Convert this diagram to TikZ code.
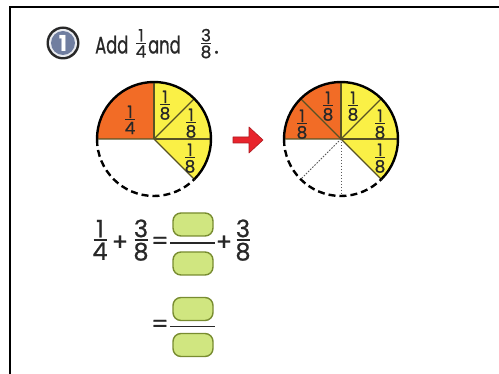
\documentclass[tikz,border=0pt]{standalone}
\usepackage{fontspec}
\setmainfont{Poppins}
\newfontfamily\hd[FakeStretch=0.68,FakeBold=0.6]{Poppins}
\newfontfamily\md[FakeBold=0.7]{Poppins}
\definecolor{pieor}{RGB}{242,108,38}
\definecolor{pieye}{RGB}{250,240,70}
\definecolor{divl}{RGB}{88,82,36}
\definecolor{boxf}{RGB}{208,230,128}
\definecolor{boxd}{RGB}{120,140,48}
\definecolor{arr}{RGB}{232,36,44}
\definecolor{badgec}{RGB}{112,126,160}
\definecolor{ink}{RGB}{40,40,40}
\tikzset{
  fs/.style={inner sep=0pt,font=\md\fontsize{17}{17}\selectfont,text=ink},
  fb/.style={inner sep=0pt,font=\md\fontsize{24}{24}\selectfont,text=ink},
  barline/.style={draw=ink,line width=1.2pt},
  divline/.style={draw=divl,line width=1.3pt},
  rim/.style={draw=black,line width=2.4pt},
  rimd/.style={draw=black,line width=2.4pt,dash pattern=on 7pt off 4pt},
  dotl/.style={draw=black!65,line width=1pt,dash pattern=on 1.5pt off 1.5pt},
  ansbox/.style={draw=boxd,fill=boxf,line width=1.4pt,rounded corners=8pt,minimum width=40pt,minimum height=23pt,inner sep=0pt},
}
% small fraction: name, x, bar y, num, den
\newcommand\frs[5]{%
  \node[fs,anchor=south] (#1n) at (#2,#3-1.8) {#4};
  \node[fs,anchor=north] (#1d) at (#2,#3+1.8) {#5};
  \draw[barline,line width=1pt] (#2-5,#3) -- (#2+5,#3);}
% big fraction
\newcommand\frb[5]{%
  \node[fb,anchor=south] (#1n) at (#2,#3-2.5) {#4};
  \node[fb,anchor=north] (#1d) at (#2,#3+2.5) {#5};
  \draw[barline] (#2-6.5,#3) -- (#2+6.5,#3);}
\begin{document}
\begin{tikzpicture}[x=1pt,y=-1pt]
\useasboundingbox (0,0) rectangle (499,374);
\fill[white] (0,0) rectangle (499,374);
% frame
\draw[line width=1.5pt] (10,374) -- (10,7) -- (499,7);
% badge
\fill[ink] (63,43) circle[radius=16.5];
\fill[white!85!badgec] (63,43) circle[radius=14];
\fill[badgec] (63,43) circle[radius=12];
\node[inner sep=0pt,text=white,font=\fontsize{22}{22}\bfseries\selectfont] (badge) at (63,43.5) {1};
% title
\node[anchor=base west,inner sep=0pt,text=ink,font=\hd\fontsize{24}{24}\selectfont] (add) at (95,53.5) {Add};
\frs{ta}{141}{43.5}{1}{4}
\node[anchor=base west,inner sep=0pt,text=ink,font=\hd\fontsize{24}{24}\selectfont] (and) at (148,53.5) {and};
\frs{tb}{206}{43.5}{3}{8}
\node[anchor=base west,inner sep=0pt,text=ink,font=\md\fontsize{22}{22}\selectfont] (dot) at (214,53.5) {.};
% left pie
\begin{scope}[shift={(154,139)},yscale=-1]
  \fill[pieor] (0,0) -- (90:57) arc[start angle=90,end angle=180,radius=57] -- cycle;
  \fill[pieye] (0,0) -- (-45:57) arc[start angle=-45,end angle=90,radius=57] -- cycle;
  \draw[divline] (180:57) -- (0,0) -- (-45:57);
  \draw[divline] (0,0) -- (90:57);
  \draw[divline] (0,0) -- (45:57);
  \draw[divline] (0,0) -- (0:57);
  \draw[rim] (-45:57) arc[start angle=-45,end angle=180,radius=57];
  \draw[rimd] (180:57) arc[start angle=180,end angle=315,radius=57];
\end{scope}
\frs{la}{130}{120}{1}{4}
\frs{lb}{165}{105}{1}{8}
\frs{lc}{191}{123}{1}{8}
\frs{ld}{190}{158}{1}{8}
% arrow
\fill[arr,draw=arr!75!black,line width=0.6pt,line join=round] (233,137) -- (249,137) -- (249,127) -- (263,140) -- (249,153) -- (249,143) -- (233,143) -- cycle;
% right pie
\begin{scope}[shift={(341,139)},yscale=-1]
  \fill[pieor] (0,0) -- (90:57) arc[start angle=90,end angle=180,radius=57] -- cycle;
  \fill[pieye] (0,0) -- (-45:57) arc[start angle=-45,end angle=90,radius=57] -- cycle;
  \draw[dotl] (0,0) -- (270:57);
  \draw[dotl] (0,0) -- (225:57);
  \draw[divline] (180:57) -- (0,0) -- (-45:57);
  \draw[divline] (0,0) -- (135:57);
  \draw[divline] (0,0) -- (90:57);
  \draw[divline] (0,0) -- (45:57);
  \draw[divline] (0,0) -- (0:57);
  \draw[rim] (-45:57) arc[start angle=-45,end angle=180,radius=57];
  \draw[rimd] (180:57) arc[start angle=180,end angle=315,radius=57];
\end{scope}
\frs{ra}{302}{124}{1}{8}
\frs{rb}{328}{106}{1}{8}
\frs{rc}{353}{106}{1}{8}
\frs{rd}{380}{124}{1}{8}
\frs{re}{380}{158}{1}{8}
% equation row 1
\frb{ea}{100}{240}{1}{4}
\node[fb] (p1) at (120,243) {+};
\frb{eb}{141}{240}{3}{8}
\node[fb] (e1) at (160,243) {=};
\node[ansbox] (b1) at (193,224.5) {};
\node[ansbox] (b2) at (193,263.5) {};
\draw[barline] (170,243) -- (215,243);
\node[fb] (p2) at (224,243) {+};
\frb{ec}{243}{240}{3}{8}
% equation row 2
\node[fb] (e2) at (160,326) {=};
\node[ansbox] (b3) at (193,309) {};
\node[ansbox] (b4) at (193,345) {};
\draw[barline] (170,326.5) -- (215,326.5);
\end{tikzpicture}
\end{document}
